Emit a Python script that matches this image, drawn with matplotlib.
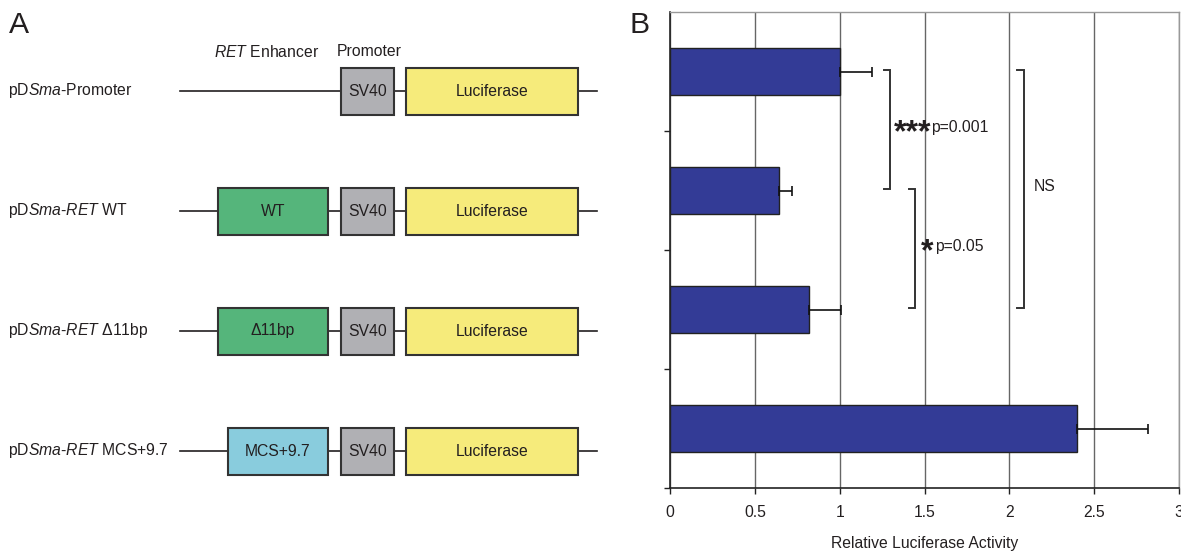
import matplotlib
matplotlib.use("Agg")
import matplotlib.pyplot as plt
from matplotlib.patches import Rectangle

plt.rcParams['font.family'] = ['Liberation Sans', 'DejaVu Sans']
plt.rcParams['mathtext.fontset'] = 'custom'
plt.rcParams['mathtext.rm'] = 'Liberation Sans'
plt.rcParams['mathtext.it'] = 'Liberation Sans:italic'

# panel A: constructs
construct_labels = [
    r"pD$\mathit{Sma}$-Promoter",
    r"pD$\mathit{Sma}$-$\mathit{RET}$ WT",
    r"pD$\mathit{Sma}$-$\mathit{RET}$ Δ11bp",
    r"pD$\mathit{Sma}$-$\mathit{RET}$ MCS+9.7",
]
enhancer_labels = [None, "WT", "Δ11bp", "MCS+9.7"]
enhancer_colors = [None, "#55B57B", "#55B57B", "#89CCDD"]
promoter_label = "SV40"
reporter_label = "Luciferase"

# panel B: relative luciferase activity
activity = [1.0, 0.645, 0.822, 2.40]
activity_err = [0.193, 0.072, 0.187, 0.42]
x_ticks = [0, 0.5, 1, 1.5, 2, 2.5, 3]
x_tick_labels = ["0", "0.5", "1", "1.5", "2", "2.5", "3"]
comparisons = [(0, 1), (1, 2), (0, 2)]
comparison_stars = ["***", "*", ""]
comparison_text = ["p=0.001", "p=0.05", "NS"]

W, H = 1181, 552
fig = plt.figure(figsize=(W / 100, H / 100), dpi=100)

# ---------- panel A (pixel space) ----------
ax0 = fig.add_axes([0, 0, 1, 1])
ax0.set_xlim(0, W)
ax0.set_ylim(H, 0)
ax0.axis('off')

txt = '#231F20'
fs = 11.3
row_y = [91, 211, 331, 451]
half_h = 23.5
line_x = (180, 597)
enh_x = [None, (218, 328), (218, 328), (228, 328)]
sv40_x = (341, 394)
luc_x = (406, 578)

def box(x0, x1, y, color, label):
    ax0.add_patch(Rectangle((x0, y - half_h), x1 - x0, 2 * half_h,
                            facecolor=color, edgecolor='#333333', lw=1.5, zorder=3))
    ax0.text((x0 + x1) / 2, y, label, ha='center', va='center',
             fontsize=fs, color=txt, zorder=4)

for i, y in enumerate(row_y):
    ax0.text(8, y, construct_labels[i], ha='left', va='center', fontsize=fs, color=txt)
    ax0.plot(line_x, [y, y], color='#231F20', lw=1.2, zorder=1)
    if enhancer_labels[i]:
        box(*enh_x[i], y, enhancer_colors[i], enhancer_labels[i])
    box(*sv40_x, y, '#B0B0B4', promoter_label)
    box(*luc_x, y, '#F6EB7B', reporter_label)

ax0.text(214, 52, r"$\mathit{RET}$ Enhancer", ha='left', va='center', fontsize=fs, color=txt)
ax0.text(337, 52, "Promoter", ha='left', va='center', fontsize=fs, color=txt)
ax0.text(9, 33, "A", ha='left', va='baseline', fontsize=21.7, color=txt)
ax0.text(629, 33, "B", ha='left', va='baseline', fontsize=21.7, color=txt)

# ---------- panel B ----------
ax = fig.add_axes([670 / W, 1 - 488 / H, (1179 - 670) / W, (488 - 12) / H])
pos = list(range(len(activity)))
ax.barh(pos, activity, height=0.4, color='#333B96', edgecolor='#222222', lw=1.0,
        xerr=[[0] * len(activity), activity_err],
        error_kw=dict(ecolor='#111111', elinewidth=1.2, capsize=3.5, capthick=1.2),
        zorder=3)
ax.set_xlim(0, 3)
ax.set_ylim(len(activity) - 0.5, -0.5)
ax.set_xticks(x_ticks)
ax.set_xticklabels(x_tick_labels, fontsize=fs, color=txt)
ax.set_yticks([p + 0.5 for p in pos])
ax.set_yticklabels([])
ax.tick_params(axis='x', length=4, width=1, pad=8, color='#222222')
ax.tick_params(axis='y', length=4, width=1, color='#222222')
ax.set_xlabel("Relative Luciferase Activity", fontsize=fs, color=txt, labelpad=12)
ax.xaxis.grid(True, color='#666666', lw=1.0)
ax.set_axisbelow(True)
for s in ('left', 'bottom'):
    ax.spines[s].set_color('#222222')
    ax.spines[s].set_linewidth(1.2)
for s in ('top', 'right'):
    ax.spines[s].set_color('#999999')
    ax.spines[s].set_linewidth(1.0)

# significance brackets
bracket_x = [1.299, 1.446, 2.084]
star_x = [1.322, 1.480, None]
label_x = [1.537, 1.563, 2.141]
tick_len = 0.038
for (a, b), bx, sx, lx, stars, label in zip(comparisons, bracket_x, star_x, label_x,
                                            comparison_stars, comparison_text):
    y0, y1 = a - 0.012, b - 0.012
    ax.plot([bx - tick_len, bx, bx, bx - tick_len], [y0, y0, y1, y1],
            color='#333333', lw=1.4, zorder=4, solid_joinstyle='miter')
    ym = (a + b) / 2
    if stars:
        ax.text(sx, ym + 0.082, stars, ha='left', va='baseline',
                fontsize=23, fontweight='bold', color=txt)
    ax.text(lx, ym - 0.03, label, ha='left', va='center', fontsize=fs, color=txt)

plt.savefig('out.png', dpi=100)
